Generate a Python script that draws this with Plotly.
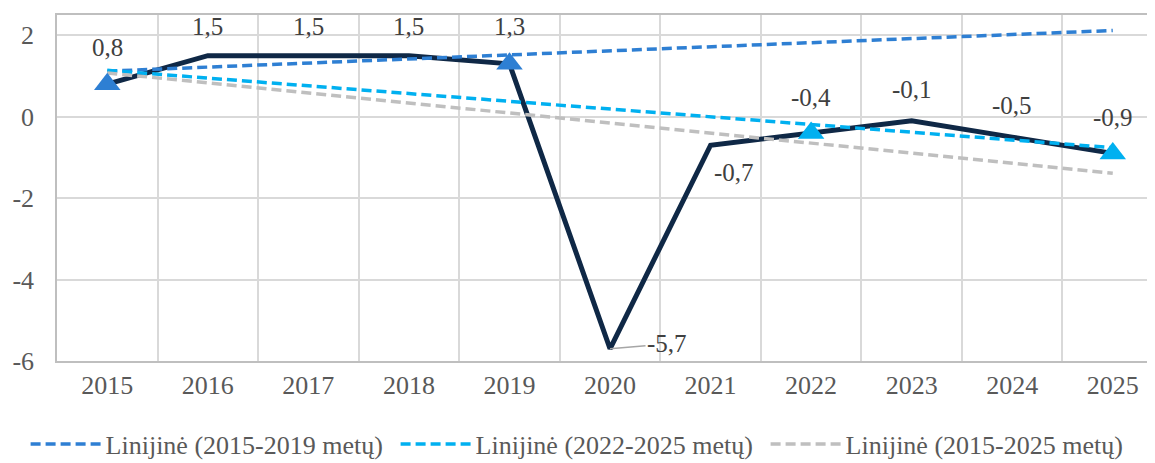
import numpy as np
import plotly.graph_objects as go

years = ["2015", "2016", "2017", "2018", "2019", "2020", "2021", "2022", "2023", "2024", "2025"]
values = [0.8, 1.5, 1.5, 1.5, 1.3, -5.7, -0.7, -0.4, -0.1, -0.5, -0.9]

# triangle markers (series end points)
tri_dark_years = ["2015", "2019"]
tri_light_years = ["2022", "2025"]

trend_names = ["Linijinė (2015-2019 metų)", "Linijinė (2022-2025 metų)", "Linijinė (2015-2025 metų)"]
trend_ranges = [(0, 4), (7, 10), (0, 10)]
trend_colors = ["#2E7FD3", "#00B0F0", "#BFBFBF"]

# data label offsets (xshift, yshift upward) in px
label_shift = [(0, 37), (0, 29), (0, 29), (0, 29), (0, 37), (57, 5), (23, -27), (0, 36), (0, 31), (0, 32), (0, 36)]

FONT = "Liberation Serif, Times New Roman, serif"
fig = go.Figure()

fig.add_trace(go.Scatter(x=years, y=values, mode="lines",
                         line=dict(color="#0F2846", width=5), showlegend=False, hoverinfo="skip"))

xs = np.arange(len(years))
vals = np.array(values)
for name, (a, b), col in zip(trend_names, trend_ranges, trend_colors):
    k, c = np.polyfit(xs[a:b + 1], vals[a:b + 1], 1)
    ty = k * xs + c
    fig.add_trace(go.Scatter(x=years, y=ty, mode="lines", name=name,
                             line=dict(color=col, width=3.5, dash="10px,5px"), hoverinfo="skip"))

val_map = dict(zip(years, values))
fig.add_trace(go.Scatter(x=tri_dark_years, y=[val_map[y] for y in tri_dark_years], mode="markers",
                         marker=dict(symbol="triangle-up", size=23, color="#2E7FD3"), showlegend=False))
fig.add_trace(go.Scatter(x=tri_light_years, y=[val_map[y] for y in tri_light_years], mode="markers",
                         marker=dict(symbol="triangle-up", size=23, color="#00B0F0"), showlegend=False))

for i, (v, (dx, dy)) in enumerate(zip(values, label_shift)):
    txt = f"{v:.1f}".replace(".", ",")
    if years[i] == "2020":
        fig.add_annotation(x=i, y=v, text=txt, showarrow=True, arrowhead=0, arrowwidth=1.5,
                           arrowcolor="#A6A6A6", ax=dx, ay=-dy, standoff=0,
                           font=dict(family=FONT, size=25, color="#404040"))
    else:
        fig.add_annotation(x=i, y=v, text=txt, showarrow=False, xshift=dx, yshift=dy,
                           font=dict(family=FONT, size=25, color="#404040"))

fig.update_layout(
    width=1147, height=455,
    margin=dict(l=49, r=0, t=7, b=102, autoexpand=False),
    paper_bgcolor="white", plot_bgcolor="white",
    font=dict(family=FONT, size=26, color="#595959"),
    showlegend=True,
    legend=dict(orientation="h", x=-0.0286, xanchor="left", y=-0.24, yanchor="middle",
                font=dict(family=FONT, size=26, color="#595959"), bgcolor="rgba(0,0,0,0)",
                itemwidth=70, entrywidth=285, entrywidthmode="pixels", tracegroupgap=0),
    xaxis=dict(type="category", range=[-0.5, 10.42], tickson="boundaries", automargin=False,
               showgrid=True, gridcolor="#D9D9D9", gridwidth=1.5,
               showline=True, linecolor="#BFBFBF", linewidth=1.5, mirror=True,
               ticks="", ticklabelstandoff=0, zeroline=False,
               tickfont=dict(family=FONT, size=26, color="#595959")),
    yaxis=dict(range=[-6, 2.5], tickvals=[-6, -4, -2, 0, 2], ticktext=["-6", "-4", "-2", "0", "2"],
               automargin=False,
               showgrid=True, gridcolor="#D9D9D9", gridwidth=1.5, zeroline=False,
               showline=True, linecolor="#BFBFBF", linewidth=1.5,
               ticks="", ticklabelstandoff=16,
               tickfont=dict(family=FONT, size=26, color="#595959")),
)

fig.write_html("out.html")
